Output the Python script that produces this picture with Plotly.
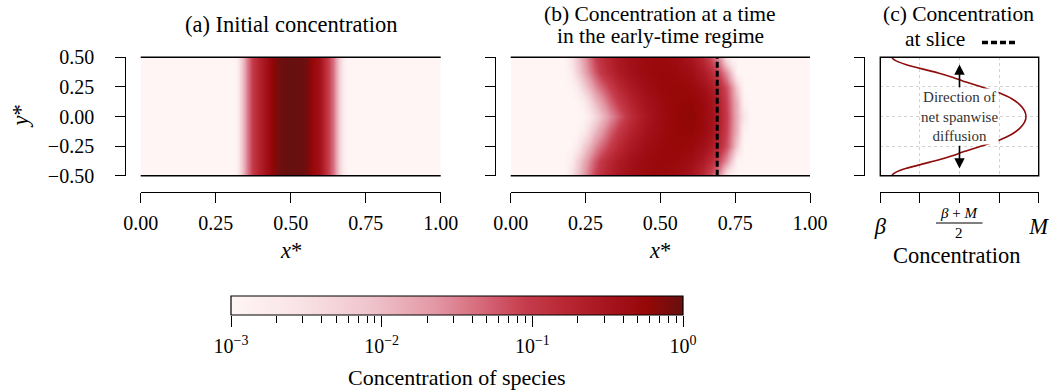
import plotly.graph_objects as go

W, H = 1061, 391


def px_x(p):
    return p / W


def px_y(p):
    return 1 - p / H


FONT = "'Liberation Serif', 'Times New Roman', serif"
TXT = 22.5
TICK = 20

# ---------------- data (log10 of concentration) -------------
# (a) initial concentration: depends on x only
a_x = [0, 0.31, 0.32, 0.33, 0.353, 0.374, 0.397, 0.42, 0.441, 0.46, 0.475,
       0.508, 0.541, 0.555, 0.57, 0.598, 0.62, 0.642, 0.664, 0.675, 0.685, 1.0]
a_logc = [-3, -3, -2.9, -2.4, -1.5, -1.0, -0.68, -0.42, -0.2, -0.06, -0.02,
          0, -0.03, -0.1, -0.25, -0.45, -0.95, -1.45, -2.3, -2.8, -3, -3]
a_y = [-0.5, 0.5]

# (b) early-time concentration: rows at spanwise positions
b_x = [0, 0.15, 0.18, 0.20, 0.22, 0.24, 0.26, 0.28, 0.30, 0.33, 0.36, 0.40,
       0.45, 0.50, 0.55, 0.60, 0.64, 0.67, 0.70, 0.72, 0.74, 0.76, 0.78,
       0.80, 0.85, 1.0]
b_y = [-0.5, -0.375, -0.25, -0.125, 0, 0.125, 0.25, 0.375, 0.5]
b_row_wall = [-3, -3, -3, -2.6, -2.15, -1.75, -1.4, -1.1, -0.9, -0.7, -0.55,
              -0.42, -0.32, -0.3, -0.35, -0.5, -0.8, -1.2, -1.75, -2.6, -3,
              -3, -3, -3, -3, -3]
b_row_375 = [-3, -3, -3, -2.8, -2.3, -1.9, -1.55, -1.25, -1.0, -0.78, -0.6,
             -0.45, -0.33, -0.28, -0.3, -0.4, -0.6, -0.85, -1.25, -1.65, -2.2,
             -3, -3, -3, -3, -3]
b_row_250 = [-3, -3, -3, -3, -2.75, -2.3, -1.95, -1.6, -1.35, -1.05, -0.8,
             -0.58, -0.4, -0.3, -0.26, -0.3, -0.42, -0.6, -0.9, -1.2, -1.6,
             -2.3, -3, -3, -3, -3]
b_row_125 = [-3, -3, -3, -3, -3, -2.8, -2.4, -2.0, -1.7, -1.3, -1.0,
             -0.72, -0.48, -0.34, -0.25, -0.23, -0.32, -0.48, -0.8, -1.1, -1.5,
             -2.0, -2.9, -3, -3, -3]
b_row_mid = [-3, -3, -3, -3, -3, -3, -2.75, -2.4, -2.05, -1.6, -1.25,
             -0.85, -0.55, -0.36, -0.25, -0.2, -0.3, -0.45, -0.75, -1.05, -1.45,
             -1.95, -2.6, -3, -3, -3]
b_z = [b_row_wall, b_row_375, b_row_250, b_row_125, b_row_mid,
       b_row_125, b_row_250, b_row_375, b_row_wall]
slice_x = 0.69

# (c) concentration along the slice (0 = beta, 1 = M)
c_y = [-0.5, -0.49, -0.47, -0.44, -0.40, -0.37, -0.33, -0.30, -0.25, -0.20,
       -0.15, -0.10, -0.05, 0, 0.05, 0.10, 0.15, 0.20, 0.25, 0.30, 0.33,
       0.37, 0.40, 0.44, 0.47, 0.49, 0.5]
c_conc = [0.074, 0.078, 0.10, 0.16, 0.27, 0.36, 0.46, 0.52, 0.64, 0.75,
          0.83, 0.88, 0.91, 0.92, 0.91, 0.88, 0.83, 0.75, 0.64, 0.52, 0.46,
          0.36, 0.27, 0.16, 0.10, 0.078, 0.074]

x_ticks = [0, 0.25, 0.5, 0.75, 1.0]
y_ticks = [-0.5, -0.25, 0, 0.25, 0.5]
c_tick_text = ["<i>β</i>", "", "", "", "<i>M</i>"]
log_min, log_max = -3, 0
cb_major = [1e-3, 1e-2, 1e-1, 1]
cb_major_text = ["10<sup>−3</sup>", "10<sup>−2</sup>", "10<sup>−1</sup>", "10<sup>0</sup>"]
cb_minor = [m * d for d in [1e-3, 1e-2, 1e-1] for m in range(2, 10)]

cscale = [
    [0.0, "#fff5f5"],
    [0.15, "#f9e3e6"],
    [0.30, "#f0c6cd"],
    [0.45, "#e398a5"],
    [0.55, "#d66a7b"],
    [0.65, "#c63c4c"],
    [0.75, "#b62530"],
    [0.85, "#a3111a"],
    [0.92, "#960707"],
    [1.0, "#661010"],
]

fig = go.Figure()
fig.add_trace(go.Heatmap(x=a_x, y=a_y, z=[a_logc, a_logc], coloraxis="coloraxis",
                         zsmooth="best", xaxis="x", yaxis="y", hoverinfo="skip"))
fig.add_trace(go.Heatmap(x=b_x, y=b_y, z=b_z, coloraxis="coloraxis",
                         zsmooth="best", xaxis="x2", yaxis="y2", hoverinfo="skip"))
fig.add_trace(go.Scatter(x=c_conc, y=c_y, mode="lines",
                         line=dict(color="#8e0c0c", width=1.6, shape="spline", smoothing=0.6),
                         xaxis="x3", yaxis="y3", showlegend=False, hoverinfo="skip"))
# colour key (gradient spanning the colour axis limits)
fig.add_trace(go.Heatmap(x=[log_min, log_max], y=[0, 1],
                         z=[[log_min, log_max], [log_min, log_max]],
                         coloraxis="coloraxis", zsmooth="best", xaxis="x5",
                         yaxis="y4", hoverinfo="skip"))
fig.add_trace(go.Scatter(x=[], y=[], xaxis="x4", yaxis="y4", showlegend=False))

tickfont = dict(family=FONT, size=TICK, color="black")
common = dict(showline=True, linecolor="black", linewidth=1.3, ticks="outside",
              ticklen=10, tickwidth=1.3, tickcolor="black", showgrid=False,
              zeroline=False, tickfont=tickfont, anchor="free", fixedrange=True)

ypos_x = px_y(192)
dom_y = [px_y(175.7), px_y(57.3)]
cb_dom_x = [px_x(231), px_x(683)]
cb_dom_y = [px_y(315), px_y(296)]

fig.update_layout(
    width=W, height=H, margin=dict(l=0, r=0, t=0, b=0, autoexpand=False),
    paper_bgcolor="white", plot_bgcolor="white", showlegend=False,
    font=dict(family=FONT, color="black"),
    coloraxis=dict(colorscale=cscale, cmin=log_min, cmax=log_max, showscale=False),
    xaxis=dict(domain=[px_x(140.7), px_x(440.7)], range=[0, 1], tickvals=x_ticks,
               tickformat=".2f", position=ypos_x, ticklabelstandoff=3, **common),
    yaxis=dict(domain=dom_y, range=[-0.5, 0.5], tickvals=y_ticks, tickformat=".2f",
               position=px_x(125.3), ticklabelstandoff=17, **common),
    xaxis2=dict(domain=[px_x(510.7), px_x(810)], range=[0, 1], tickvals=x_ticks,
                tickformat=".2f", position=ypos_x, ticklabelstandoff=3, **common),
    yaxis2=dict(domain=dom_y, range=[-0.5, 0.5], tickvals=y_ticks,
                showticklabels=False, position=px_x(495), **common),
    xaxis3=dict(domain=[px_x(880.3), px_x(1038.7)], range=[0, 1], tickvals=x_ticks,
                ticktext=c_tick_text, position=ypos_x, ticklabelstandoff=4,
                **{**common, "showgrid": True, "gridcolor": "#d2d2d2",
                   "griddash": "dot", "gridwidth": 1,
                   "tickfont": dict(family=FONT, size=TXT, color="black")}),
    yaxis3=dict(domain=dom_y, range=[-0.5, 0.5], tickvals=y_ticks,
                showticklabels=False, position=px_x(864),
                **{**common, "showgrid": True, "gridcolor": "#d2d2d2",
                   "griddash": "dot", "gridwidth": 1}),
    xaxis4=dict(domain=cb_dom_x, type="log", range=[log_min, log_max],
                tickvals=cb_major, ticktext=cb_major_text, ticklabelstandoff=2,
                minor=dict(tickmode="array", tickvals=cb_minor, ticklen=7,
                           ticks="outside", tickcolor="black", tickwidth=1.3),
                position=cb_dom_y[0], **{**common, "showline": False, "ticklen": 11}),
    xaxis5=dict(domain=cb_dom_x, range=[log_min, log_max], visible=False,
                anchor="y4", fixedrange=True),
    yaxis4=dict(domain=cb_dom_y, visible=False, range=[0, 1],
                anchor="x4", fixedrange=True),
)

line_blk = dict(color="black", width=1.5)
shapes = []
for xr, yr in [("x domain", "y domain"), ("x2 domain", "y2 domain")]:
    for yv in [0, 1]:
        shapes.append(dict(type="line", xref=xr, yref=yr, x0=0, x1=1, y0=yv, y1=yv,
                           line=line_blk, layer="above"))
shapes.append(dict(type="rect", xref="x3 domain", yref="y3 domain", x0=0, x1=1,
                   y0=0, y1=1, line=dict(color="black", width=1.4), layer="above"))
shapes.append(dict(type="rect", xref="x4 domain", yref="y4 domain", x0=0, x1=1,
                   y0=0, y1=1, line=dict(color="black", width=1.2), layer="above"))
shapes.append(dict(type="line", xref="x2", yref="y2 domain", x0=slice_x, x1=slice_x,
                   y0=0, y1=1, line=dict(color="black", width=3, dash="6px,3px"),
                   layer="above"))
# legend-style dash in title (c)
shapes.append(dict(type="line", xref="paper", yref="paper", x0=px_x(982), x1=px_x(1016),
                   y0=px_y(42.5), y1=px_y(42.5),
                   line=dict(color="black", width=3.5, dash="6px,3px")))
# fraction bar
shapes.append(dict(type="line", xref="paper", yref="paper", x0=px_x(936), x1=px_x(982.5),
                   y0=px_y(223), y1=px_y(223), line=dict(color="black", width=1)))
fig.update_layout(shapes=shapes)

anns = []


def txt(text, x, y, size=TXT, **kw):
    d = dict(text=text, x=px_x(x), y=px_y(y), xref="paper", yref="paper",
             showarrow=False, xanchor="center", yanchor="middle",
             font=dict(family=FONT, size=size, color="black"))
    d.update(kw)
    anns.append(d)


txt("(a) Initial concentration", 290.7, 25)
txt("(b) Concentration at a time", 660, 14, size=21.5)
txt("in the early-time regime", 660, 36, size=21.5)
txt("(c) Concentration", 958.5, 14, size=21.5)
txt("at slice", 935, 39, size=21.5)
txt("<i>x</i>*", 290.7, 250)
txt("<i>x</i>*", 660.3, 250)
txt("<i>y</i>*", 20, 116.5, textangle=-90)
txt("Concentration", 956, 255)
txt("Concentration of species", 457, 377, size=22)
txt("<i>β</i> + <i>M</i>", 958.5, 213, size=15)
txt("2", 958.5, 233, size=15)

anns.append(dict(text="Direction of<br>net spanwise<br>diffusion", x=0.5, y=0,
                 xref="x3", yref="y3", showarrow=False, align="center",
                 font=dict(family=FONT, size=15, color="#333333"),
                 bgcolor="white", borderpad=0))
for tip, tail in [(0.44, 0.235), (-0.44, -0.235)]:
    anns.append(dict(text="", x=0.5, y=tip, ax=0.5, ay=tail, xref="x3", yref="y3",
                     axref="x3", ayref="y3", showarrow=True, arrowhead=2,
                     arrowsize=1.3, arrowwidth=1.6, arrowcolor="black"))
fig.update_layout(annotations=anns)

fig.write_html("out.html")
